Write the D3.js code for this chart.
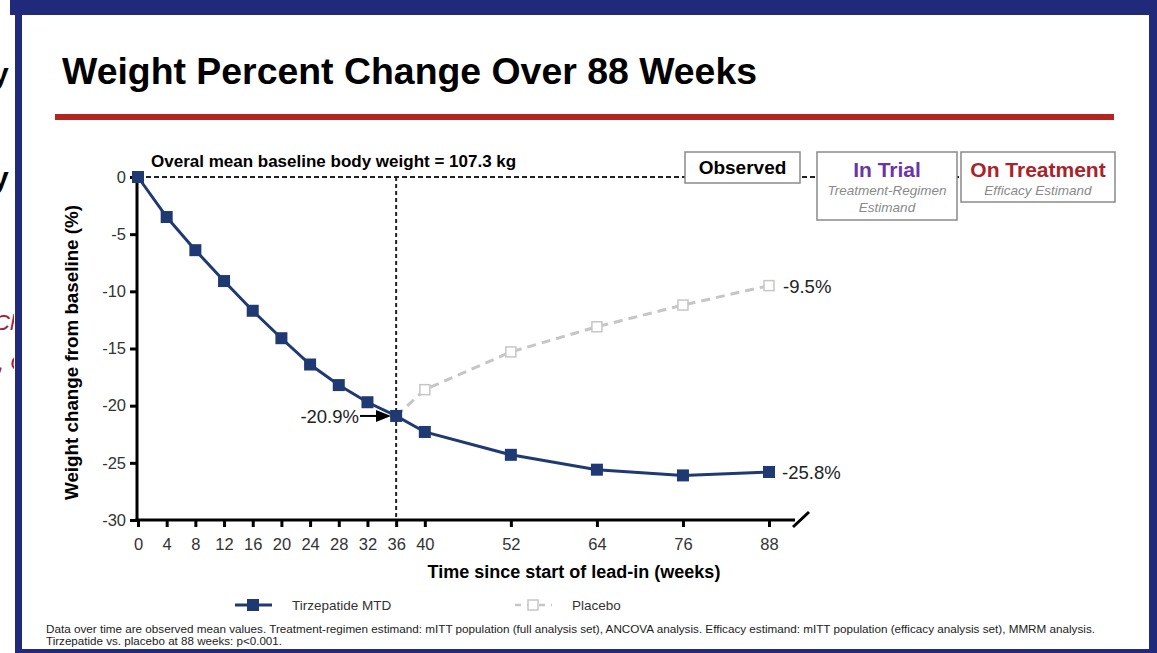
<!DOCTYPE html>
<html>
<head>
<meta charset="utf-8">
<script src="https://cdn.jsdelivr.net/npm/d3@7"></script>
<style>
  body { margin: 0; background: #fff; }
  svg { display: block; font-family: "Liberation Sans", Arial, sans-serif; }
</style>
</head>
<body>
<script>
// Data
const weeks = [0, 4, 8, 12, 16, 20, 24, 28, 32, 36, 40, 52, 64, 76, 88];
const tirzepatide = [0, -3.5, -6.4, -9.1, -11.7, -14.1, -16.4, -18.2, -19.7, -20.9, -22.3, -24.3, -25.6, -26.1, -25.8];
const placeboWeeks = [36, 40, 52, 64, 76, 88];
const placebo = [-20.9, -18.6, -15.3, -13.1, -11.2, -9.5];
const yTicks = [0, -5, -10, -15, -20, -25, -30];
const seriesNames = ["Tirzepatide MTD", "Placebo"];

const W = 1157, H = 653;
const navy = "#1f3a73";
const grey = "#c6c6c6";

const svg = d3.select("body").append("svg")
  .attr("width", W)
  .attr("height", H);

// slide frame
svg.append("rect").attr("x", 10).attr("y", 0).attr("width", W - 10).attr("height", 15).attr("fill", "#212a7a");
svg.append("rect").attr("x", 15).attr("y", 0).attr("width", 7).attr("height", H).attr("fill", "#212a7a");
svg.append("rect").attr("x", 1149).attr("y", 0).attr("width", 8).attr("height", H).attr("fill", "#212a7a");
svg.append("rect").attr("x", 15).attr("y", 649).attr("width", W - 15).attr("height", 4).attr("fill", "#212a7a");

// bits of the neighbouring slide, cut off at the left
const clip = svg.append("defs").append("clipPath").attr("id", "leftcut");
clip.append("rect").attr("x", 0).attr("y", 0).attr("width", 14).attr("height", H);
const cut = svg.append("g").attr("clip-path", "url(#leftcut)");
cut.append("text").attr("x", -8).attr("y", 84).attr("font-size", 30).attr("font-weight", "bold").text("y");
cut.append("text").attr("x", -8).attr("y", 188).attr("font-size", 30).attr("font-weight", "bold").text("y");
cut.append("text").attr("x", -6).attr("y", 330).attr("font-size", 22).attr("font-style", "italic").attr("fill", "#a3223a").text("Ch");
cut.append("text").attr("x", -2).attr("y", 370).attr("font-size", 22).attr("font-style", "italic").attr("fill", "#a3223a").text(", C");

// title and red rule
svg.append("text").attr("x", 62).attr("y", 84)
  .attr("font-size", 37).attr("font-weight", "bold").attr("fill", "#000")
  .attr("textLength", 695).attr("lengthAdjust", "spacingAndGlyphs")
  .text("Weight Percent Change Over 88 Weeks");
svg.append("rect").attr("x", 55).attr("y", 114).attr("width", 1059).attr("height", 6).attr("fill", "#b5251f");

// scales
const x = d3.scaleLinear().domain([0, 88]).range([138, 769]);
const y = d3.scaleLinear().domain([0, -30]).range([177, 520]);

// reference dotted lines
svg.append("line")
  .attr("x1", x(0)).attr("x2", 962).attr("y1", y(0)).attr("y2", y(0))
  .attr("stroke", "#222").attr("stroke-width", 1.8).attr("stroke-dasharray", "5,3");
svg.append("line")
  .attr("x1", x(36)).attr("x2", x(36)).attr("y1", y(0)).attr("y2", y(-30))
  .attr("stroke", "#222").attr("stroke-width", 2).attr("stroke-dasharray", "4,3");

// axes
const yAxis = svg.append("g")
  .attr("transform", `translate(${x(0) - 1},0)`)
  .call(d3.axisLeft(y).tickValues(yTicks).tickSize(7).tickPadding(4).tickFormat(d => String(d)));
yAxis.select(".domain").attr("stroke-width", 3).attr("d", `M0,${y(0)}V${y(-30) + 1.5}`);

const xAxis = svg.append("g")
  .attr("transform", `translate(0,${y(-30)})`)
  .call(d3.axisBottom(x).tickValues(weeks).tickSize(7).tickPadding(11));
xAxis.select(".domain").attr("stroke-width", 3).attr("d", `M${x(0) - 2.5},0H795`);

[yAxis, xAxis].forEach(a => {
  a.selectAll(".tick line").attr("stroke-width", 3).attr("stroke", "#000");
  a.selectAll(".tick text").attr("font-size", 16.5).attr("fill", "#333")
    .attr("font-family", "Liberation Sans, Arial, sans-serif");
});

// axis break slash
svg.append("line").attr("x1", 793).attr("y1", 527).attr("x2", 809).attr("y2", 512)
  .attr("stroke", "#000").attr("stroke-width", 3);

// axis titles
svg.append("text")
  .attr("transform", `translate(78,${(y(0) + y(-30)) / 2 + 4}) rotate(-90)`)
  .attr("text-anchor", "middle").attr("font-size", 19).attr("font-weight", "bold")
  .attr("textLength", 295).attr("lengthAdjust", "spacingAndGlyphs")
  .text("Weight change from baseline (%)");
svg.append("text").attr("x", 574).attr("y", 578)
  .attr("text-anchor", "middle").attr("font-size", 18).attr("font-weight", "bold")
  .text("Time since start of lead-in (weeks)");

svg.append("text").attr("x", 151).attr("y", 167)
  .attr("font-size", 17).attr("font-weight", "bold")
  .text("Overal mean baseline body weight = 107.3 kg");

// estimand boxes
const boxes = [
  { x: 685, y: 152, w: 115, h: 31, title: "Observed", color: "#000", size: 19, sub: [] },
  { x: 817, y: 152, w: 140, h: 68, title: "In Trial", color: "#6b35a8", size: 21, sub: ["Treatment-Regimen", "Estimand"] },
  { x: 961, y: 152, w: 154, h: 50, title: "On Treatment", color: "#a8232b", size: 21, sub: ["Efficacy Estimand"] }
];
boxes.forEach(b => {
  const g = svg.append("g");
  g.append("rect").attr("x", b.x).attr("y", b.y).attr("width", b.w).attr("height", b.h)
    .attr("fill", "#fff").attr("stroke", "#8a8a8a").attr("stroke-width", 1.5);
  g.append("text").attr("x", b.x + b.w / 2).attr("y", b.y + (b.sub.length ? 25 : 22))
    .attr("text-anchor", "middle").attr("font-size", b.size).attr("font-weight", "bold")
    .attr("fill", b.color).text(b.title);
  b.sub.forEach((s, i) => {
    g.append("text").attr("x", b.x + b.w / 2).attr("y", b.y + 43 + i * 17)
      .attr("text-anchor", "middle").attr("font-size", 13.5).attr("font-style", "italic")
      .attr("fill", "#8a8a8a").text(s);
  });
});

// series
const line = d3.line().x(d => x(d[0])).y(d => y(d[1]));
const tzData = weeks.map((w, i) => [w, tirzepatide[i]]);
const pbData = placeboWeeks.map((w, i) => [w, placebo[i]]);

svg.append("path").datum(pbData).attr("d", line)
  .attr("fill", "none").attr("stroke", grey).attr("stroke-width", 3).attr("stroke-dasharray", "9,6");
svg.selectAll(".pb").data(pbData.slice(1)).join("rect").attr("class", "pb")
  .attr("x", d => x(d[0]) - 5).attr("y", d => y(d[1]) - 5).attr("width", 10).attr("height", 10)
  .attr("fill", "#fff").attr("stroke", grey).attr("stroke-width", 1.5);

svg.append("path").datum(tzData).attr("d", line)
  .attr("fill", "none").attr("stroke", navy).attr("stroke-width", 3);
svg.selectAll(".tz").data(tzData).join("rect").attr("class", "tz")
  .attr("x", d => x(d[0]) - 6).attr("y", d => y(d[1]) - 6).attr("width", 12).attr("height", 12)
  .attr("fill", navy);

// value labels
const fmt = v => v.toFixed(1) + "%";
svg.append("text").attr("x", x(88) + 14).attr("y", y(placebo[placebo.length - 1]) + 7)
  .attr("font-size", 18.5).attr("fill", "#222").text(fmt(placebo[placebo.length - 1]));
svg.append("text").attr("x", x(88) + 13).attr("y", y(tirzepatide[tirzepatide.length - 1]) + 7)
  .attr("font-size", 18.5).attr("fill", "#222").text(fmt(tirzepatide[tirzepatide.length - 1]));
svg.append("text").attr("x", 359).attr("y", y(-20.9) + 7).attr("text-anchor", "end")
  .attr("font-size", 18.5).attr("fill", "#222").text(fmt(tirzepatide[9]));
svg.append("line").attr("x1", 360).attr("x2", 378).attr("y1", y(-20.9)).attr("y2", y(-20.9))
  .attr("stroke", "#000").attr("stroke-width", 2);
svg.append("path")
  .attr("d", `M376,${y(-20.9) - 6}L391,${y(-20.9)}L376,${y(-20.9) + 6}Z`).attr("fill", "#000");

// legend
const lg = svg.append("g").attr("transform", "translate(0,605)");
lg.append("line").attr("x1", 235).attr("x2", 272).attr("stroke", navy).attr("stroke-width", 3);
lg.append("rect").attr("x", 247).attr("y", -6).attr("width", 12).attr("height", 12).attr("fill", navy);
lg.append("text").attr("x", 292).attr("y", 5).attr("font-size", 13.5).attr("fill", "#333").text(seriesNames[0]);
lg.append("line").attr("x1", 515).attr("x2", 552).attr("stroke", grey).attr("stroke-width", 2.5).attr("stroke-dasharray", "6,6");
lg.append("rect").attr("x", 528).attr("y", -5).attr("width", 10).attr("height", 10)
  .attr("fill", "#fff").attr("stroke", grey).attr("stroke-width", 1.5);
lg.append("text").attr("x", 572).attr("y", 5).attr("font-size", 13.5).attr("fill", "#333").text(seriesNames[1]);

// footnote
svg.append("text").attr("x", 46).attr("y", 633).attr("font-size", 11)
  .attr("textLength", 1049).attr("lengthAdjust", "spacingAndGlyphs").attr("fill", "#222")
  .text("Data over time are observed mean values. Treatment-regimen estimand: mITT population (full analysis set), ANCOVA analysis. Efficacy estimand: mITT population (efficacy analysis set), MMRM analysis.");
svg.append("text").attr("x", 46).attr("y", 645).attr("font-size", 11)
  .attr("textLength", 236).attr("lengthAdjust", "spacingAndGlyphs").attr("fill", "#222")
  .text("Tirzepatide vs. placebo at 88 weeks: p<0.001.");
</script>
</body>
</html>
